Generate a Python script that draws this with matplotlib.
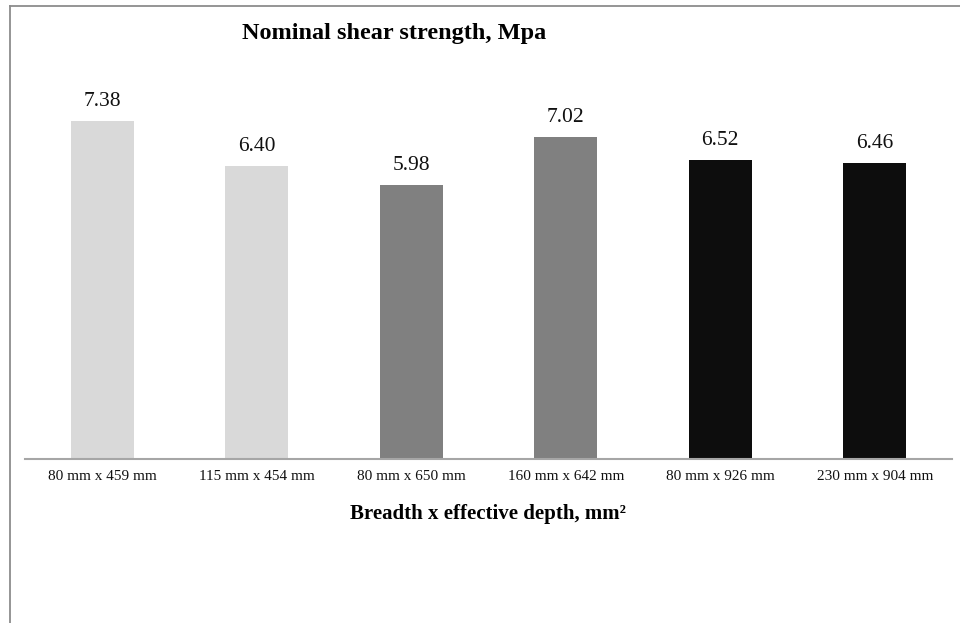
import matplotlib
matplotlib.use("Agg")
import matplotlib.pyplot as plt
from matplotlib.lines import Line2D

categories = ["80 mm x 459 mm", "115 mm x 454 mm", "80 mm x 650 mm",
              "160 mm x 642 mm", "80 mm x 926 mm", "230 mm x 904 mm"]
values = [7.38, 6.40, 5.98, 7.02, 6.52, 6.46]
bar_colors = ["#d9d9d9", "#d9d9d9", "#808080", "#808080", "#0d0d0d", "#0d0d0d"]

plt.rcParams['font.family'] = ['Liberation Serif', 'DejaVu Serif']

W, H = 960, 623
fig = plt.figure(figsize=(W / 100, H / 100), dpi=100)
ymax = 9.0
ppu = 45.8
base = 459
top_px = base - ymax * ppu
ax = fig.add_axes([25 / W, (H - base) / H, (952 - 25) / W, (base - top_px) / H])

x = list(range(len(categories)))
ax.bar(x, values, width=0.41, color=bar_colors, zorder=2)
for xi, v in zip(x, values):
    ax.annotate(f"{v:.2f}", (xi, v), xytext=(0, 11), textcoords="offset points",
                ha="center", va="baseline", fontsize=15.5, color="#111111")

ax.set_xlim(-0.5, len(categories) - 0.5)
ax.set_ylim(0, ymax)
ax.set_xticks(x)
ax.set_xticklabels(categories, fontsize=11, color="#111111")
ax.tick_params(axis="x", length=0, pad=8)
ax.set_yticks([])
for s in ["top", "right", "left"]:
    ax.spines[s].set_visible(False)
ax.spines["bottom"].set_color("#a6a6a6")
ax.spines["bottom"].set_linewidth(1.5)
ax.spines["bottom"].set_zorder(3)
ax.set_xlabel("Breadth x effective depth, mm²", fontsize=15,
              fontweight="bold", labelpad=15)

fig.text(394 / W, 1 - 39 / H, "Nominal shear strength, Mpa", ha="center", va="baseline",
         fontsize=17.5, fontweight="bold")

# outer border (top and left edges)
fig.add_artist(Line2D([10 / W, 1], [1 - 6 / H, 1 - 6 / H], color="#8c8c8c", lw=1.3,
                      transform=fig.transFigure))
fig.add_artist(Line2D([10 / W, 10 / W], [0, 1 - 6 / H], color="#8c8c8c", lw=1.3,
                      transform=fig.transFigure))

fig.savefig("out.png", dpi=100, facecolor="white")
